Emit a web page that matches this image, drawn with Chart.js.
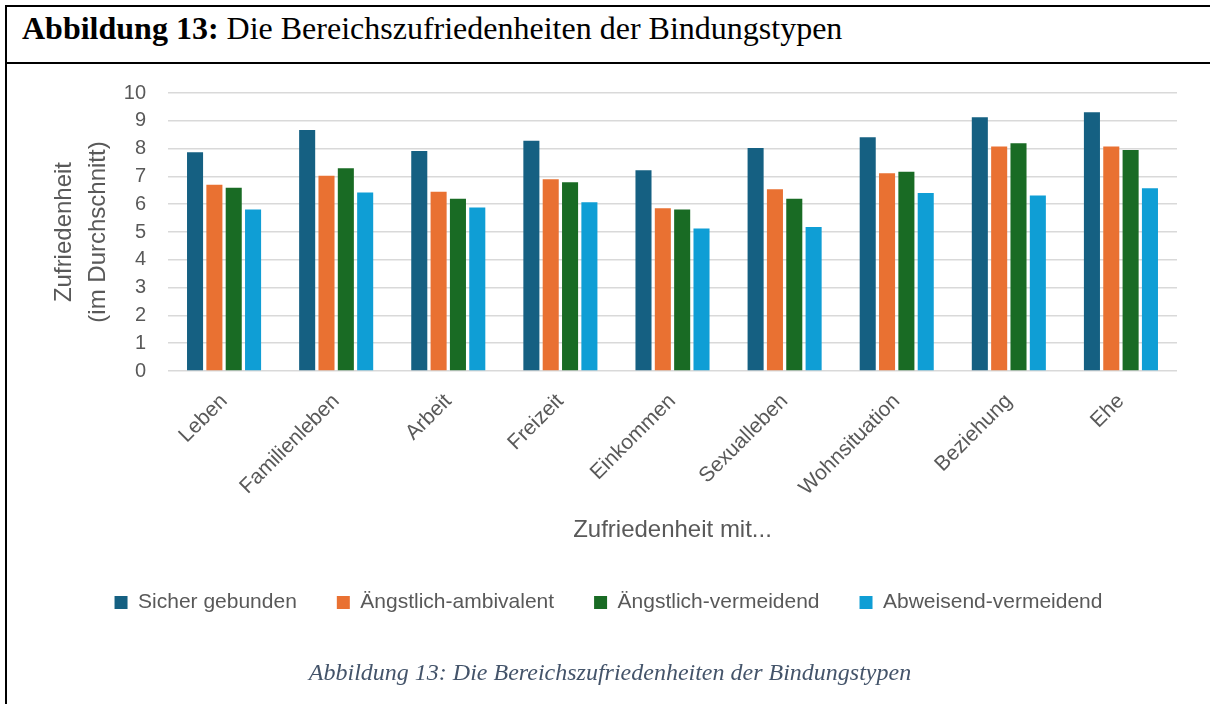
<!DOCTYPE html>
<html>
<head>
<meta charset="utf-8">
<script src="https://cdn.jsdelivr.net/npm/chart.js@4/dist/chart.umd.min.js"></script>
<style>
  body { margin: 0; width: 1210px; height: 704px; background: #fff; position: relative; overflow: hidden; }
  .frame-left { position: absolute; left: 5px; top: 5px; width: 2px; height: 699px; background: #000; }
  .frame-top { position: absolute; left: 5px; top: 5px; width: 1205px; height: 2px; background: #000; }
  .frame-sep { position: absolute; left: 5px; top: 62px; width: 1205px; height: 2px; background: #000; }
  .title { position: absolute; left: 22px; top: 10px; font-family: "Liberation Serif", "Times New Roman", serif; font-size: 32px; color: #000; white-space: nowrap; }
  .caption { position: absolute; left: 0; width: 1220px; top: 659px; text-align: center; font-family: "Liberation Serif", "Times New Roman", serif; font-style: italic; font-size: 24px; color: #44546A; }
  #chart { position: absolute; left: 0; top: 64px; }
</style>
</head>
<body>
<div class="frame-left"></div>
<div class="frame-top"></div>
<div class="frame-sep"></div>
<div class="title"><b>Abbildung 13:</b> Die Bereichszufriedenheiten der Bindungstypen</div>
<canvas id="chart" width="1210" height="640"></canvas>
<div class="caption">Abbildung 13: Die Bereichszufriedenheiten der Bindungstypen</div>
<script>
const categories = ["Leben", "Familienleben", "Arbeit", "Freizeit", "Einkommen", "Sexualleben", "Wohnsituation", "Beziehung", "Ehe"];
const seriesNames = ["Sicher gebunden", "Ängstlich-ambivalent", "Ängstlich-vermeidend", "Abweisend-vermeidend"];
const sicher = [7.87, 8.67, 7.91, 8.28, 7.22, 8.02, 8.41, 9.13, 9.31];
const ambivalent = [6.70, 7.02, 6.45, 6.90, 5.85, 6.54, 7.11, 8.08, 8.08];
const aengstlichVermeidend = [6.59, 7.29, 6.20, 6.79, 5.81, 6.20, 7.17, 8.19, 7.95];
const abweisend = [5.81, 6.42, 5.88, 6.07, 5.13, 5.18, 6.40, 6.31, 6.57];
const colors = ["#156082", "#E97132", "#196B24", "#0F9ED5"];

const textColor = "#595959";
const fontFamily = "'Liberation Sans', Arial, sans-serif";

const values = [sicher, ambivalent, aengstlichVermeidend, abweisend];
const datasets = seriesNames.map(function (name, i) {
  return {
    label: name,
    data: values[i],
    backgroundColor: colors[i],
    categoryPercentage: 0.69,
    barPercentage: 0.83,
  };
});

new Chart(document.getElementById("chart"), {
  type: "bar",
  data: { labels: categories, datasets: datasets },
  options: {
    responsive: false,
    animation: false,
    layout: { padding: { top: 29, left: 40, right: 33, bottom: 81 } },
    plugins: {
      tooltip: { enabled: false },
      legend: {
        position: "bottom",
        labels: {
          boxWidth: 13,
          boxHeight: 13,
          padding: 40,
          color: textColor,
          font: { family: fontFamily, size: 21 },
        },
      },
    },
    scales: {
      x: {
        grid: { display: false },
        border: { display: false },
        ticks: {
          color: textColor,
          font: { family: fontFamily, size: 21 },
          minRotation: 45,
          maxRotation: 45,
          padding: 10,
        },
        title: {
          display: true,
          text: "Zufriedenheit mit...",
          color: textColor,
          font: { family: fontFamily, size: 24 },
          padding: { top: 0, bottom: 7 },
        },
        afterFit: function (scale) { scale.height = 181; },
      },
      y: {
        min: 0,
        max: 10,
        border: { display: false },
        grid: { color: "#d9d9d9", lineWidth: 1.5, drawTicks: true, tickLength: 18, tickColor: "rgba(0,0,0,0)" },
        ticks: {
          stepSize: 1,
          color: textColor,
          font: { family: fontFamily, size: 20 },
          padding: 4,
        },
        title: {
          display: true,
          text: ["Zufriedenheit", "(im Durchschnitt)"],
          color: textColor,
          font: { family: fontFamily, size: 24, lineHeight: 1.4 },
          padding: { top: 8, bottom: 0 },
        },
        afterFit: function (scale) { scale.width = 128; },
      },
    },
  },
});
</script>
</body>
</html>
